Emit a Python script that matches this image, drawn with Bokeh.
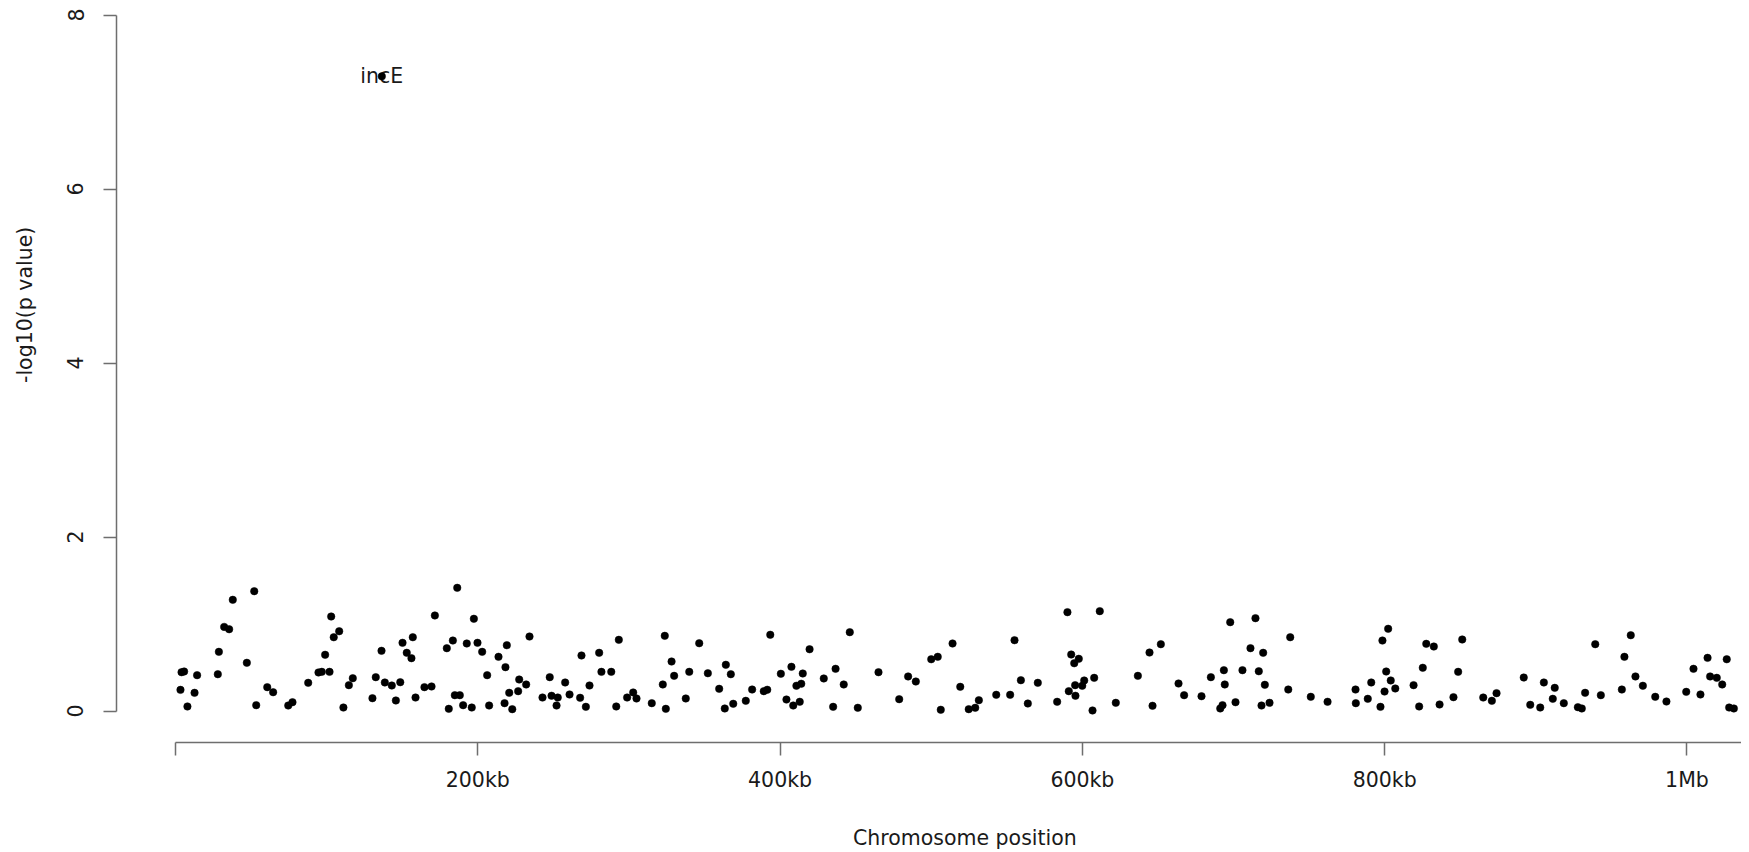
from bokeh.plotting import figure
from bokeh.models import ColumnDataSource, Range1d, FixedTicker
from bokeh.core.properties import value
from bokeh.embed import file_html
from bokeh.resources import INLINE

# Chromosome position (kb) and -log10(p value) for each marker
pos_kb = [4.0, 5.7, 14.3, 3.3, 12.6, 7.9, 28.7, 28.0, 32.2, 35.5, 37.9, 52.1, 47.2, 53.4, 60.7, 64.6,
          74.6, 77.4, 87.8, 94.6, 96.8, 101.9, 99.0, 103.0, 108.3, 104.7, 114.7, 117.3, 111.1, 130.3,
          132.5, 136.3, 138.5, 143.1, 148.7, 145.8, 150.2, 157.0, 153.0, 156.1, 158.8,
          164.7, 169.4, 171.6, 179.5, 183.5, 186.4, 180.8, 184.8, 188.1, 190.3, 196.0, 192.7, 197.4,
          199.8, 202.9, 206.2, 207.5, 213.7, 219.2, 218.3, 217.7, 222.8, 220.8, 227.4, 226.7, 232.0,
          234.2, 242.8, 247.6, 248.8, 252.9, 252.1, 257.8, 260.7, 267.7, 271.5, 268.6, 273.9, 280.3,
          281.8, 288.3, 293.3, 291.6, 298.8, 302.8, 305.0, 315.1, 323.7, 328.2, 329.9, 322.4, 324.4,
          337.6, 339.9,
          346.5, 352.2, 359.7, 364.1, 367.4, 363.4, 369.0, 377.3, 381.5, 389.2, 391.5, 393.5, 400.5,
          407.5, 404.2, 408.7, 413.0, 410.8, 414.0, 415.0, 419.5, 428.9, 436.7, 435.1, 442.1, 446.1,
          451.4, 465.1, 478.8, 484.7, 489.8, 500.0, 504.3, 506.3,
          514.1, 519.2, 524.8, 529.1, 531.5, 543.0, 552.2, 555.1, 559.3, 563.9, 570.5, 583.3, 590.1,
          592.6, 597.6, 594.6, 591.0, 595.2, 595.4, 599.9, 601.2, 607.8, 606.7, 611.5, 622.1, 636.7,
          644.4, 651.9, 646.4, 663.6, 667.3, 678.8,
          685.0, 691.2, 692.7, 693.6, 694.2, 697.8, 701.3, 705.9, 711.2, 714.5, 716.7, 719.6, 720.7,
          718.5, 723.8, 737.5, 736.2, 751.1, 762.2, 780.7, 780.9, 788.8, 791.1, 797.2, 798.5, 802.3,
          801.0, 804.0, 799.9, 807.0, 819.1, 822.8, 825.2, 827.5, 832.5, 836.3, 845.5, 848.6, 851.3,
          865.2, 870.9, 874.0, 892.0, 896.3, 902.9, 905.3, 912.5, 911.2, 918.5, 927.8, 930.4, 932.6,
          939.3, 943.0, 956.9, 958.6, 962.8, 965.9, 970.8, 979.0, 986.4, 999.5, 1004.3, 1008.9,
          1013.6, 1015.3, 1019.7, 1023.3, 1026.3, 1027.9, 1031.0, 1038.9]

neglog_p = [0.446, 0.454, 0.412, 0.243, 0.209, 0.052, 0.680, 0.423, 0.967, 0.940, 1.278, 1.377, 0.554,
            0.067, 0.274, 0.216, 0.063, 0.101, 0.324, 0.443, 0.450, 0.450, 0.646, 1.086, 0.917, 0.848,
            0.297, 0.377, 0.040, 0.147, 0.389, 0.692, 0.328, 0.293, 0.331, 0.121, 0.784, 0.848, 0.669,
            0.607, 0.155,
            0.274, 0.282, 1.098, 0.722, 0.810, 1.416, 0.025, 0.182, 0.182, 0.067, 0.040, 0.776, 1.060,
            0.784, 0.680, 0.412, 0.063, 0.623, 0.756, 0.504, 0.090, 0.021, 0.209, 0.362, 0.228, 0.305,
            0.856, 0.155, 0.389, 0.175, 0.155, 0.063, 0.328, 0.190, 0.152, 0.048, 0.638, 0.293, 0.669,
            0.450, 0.450, 0.818, 0.052, 0.155, 0.213, 0.144, 0.090, 0.864, 0.569, 0.404, 0.305, 0.025,
            0.144, 0.450,
            0.779, 0.434, 0.255, 0.531, 0.423, 0.029, 0.083, 0.117, 0.247, 0.228, 0.244, 0.876, 0.428,
            0.508, 0.132, 0.063, 0.106, 0.290, 0.313, 0.431, 0.710, 0.374, 0.485, 0.048, 0.305, 0.906,
            0.037, 0.446, 0.136, 0.397, 0.339, 0.595, 0.623, 0.014,
            0.776, 0.278, 0.021, 0.037, 0.124, 0.186, 0.186, 0.814, 0.354, 0.086, 0.324, 0.106, 1.136,
            0.649, 0.600, 0.549, 0.228, 0.297, 0.175, 0.290, 0.351, 0.381, 0.006, 1.148, 0.094, 0.404,
            0.672, 0.768, 0.060, 0.316, 0.182, 0.170,
            0.389, 0.029, 0.067, 0.469, 0.305, 1.021, 0.101, 0.469, 0.722, 1.067, 0.457, 0.669, 0.301,
            0.063, 0.094, 0.848, 0.247, 0.163, 0.106, 0.247, 0.090, 0.140, 0.328, 0.048, 0.810, 0.945,
            0.454, 0.351, 0.224, 0.259, 0.297, 0.052, 0.497, 0.772, 0.741, 0.075, 0.159, 0.450, 0.822,
            0.155, 0.117, 0.205, 0.385, 0.071, 0.040, 0.328, 0.266, 0.140, 0.090, 0.044, 0.029, 0.209,
            0.768, 0.182, 0.247, 0.623, 0.871, 0.397, 0.290, 0.163, 0.109, 0.220, 0.485, 0.190,
            0.611, 0.397, 0.381, 0.305, 0.595, 0.040, 0.029, 0.090]

# Highlighted hit
hit_name = ["incE"]
hit_pos_kb = [136.5]
hit_neglog_p = [7.295]

x_ticks = [0, 200, 400, 600, 800, 1000]
x_tick_labels = ["", "200kb", "400kb", "600kb", "800kb", "1Mb"]
y_ticks = [0, 2, 4, 6, 8]
x_title = "Chromosome position"
y_title = "-log10(p value)"

FONT = "DejaVu Sans"
FSIZE = "20.5px"
TXT = "#1a1a1a"
AX = "#6e6e6e"
# The reference centres its axis titles on a plot region wider/taller than the visible
# frame; en-space padding shifts the centred titles to match that placement.
PAD = "\u2002"

p = figure(width=1741, height=852, output_backend="svg", toolbar_location=None,
           x_range=Range1d(-39.03, 1036.06), y_range=Range1d(-0.362, 8.1667),
           min_border_left=116, min_border_right=0, min_border_top=0, min_border_bottom=110)
p.outline_line_color = None
p.xgrid.grid_line_color = None
p.ygrid.grid_line_color = None
p.background_fill_color = "white"
p.border_fill_color = "white"

src = ColumnDataSource(dict(x=pos_kb, y=neglog_p))
p.scatter("x", "y", source=src, size=7.5, fill_color="black", line_color="black", line_width=0.5)

hit_src = ColumnDataSource(dict(x=hit_pos_kb, y=hit_neglog_p, name=hit_name))
p.text("x", "y", text="name", source=hit_src, text_align="center", text_baseline="middle",
       text_font=value(FONT), text_font_size=FSIZE, text_color=TXT)
p.scatter("x", "y", source=hit_src, size=7.5, fill_color="black", line_color="black", line_width=0.5)

# x axis
xa = p.xaxis[0]
xa.ticker = FixedTicker(ticks=x_ticks)
xa.major_label_overrides = {t: l for t, l in zip(x_ticks, x_tick_labels)}
xa.bounds = (0, 1100)
xa.axis_label = PAD * 7 + x_title

# y axis
ya = p.yaxis[0]
ya.ticker = FixedTicker(ticks=y_ticks)
ya.bounds = (0, 8)
ya.axis_label = PAD * 13 + y_title
ya.major_label_orientation = "vertical"

for ax in (xa, ya):
    ax.axis_line_color = AX
    ax.axis_line_width = 1.5
    ax.major_tick_line_color = AX
    ax.major_tick_line_width = 1.5
    ax.major_tick_out = 13
    ax.major_tick_in = 0
    ax.minor_tick_line_color = None
    ax.major_label_text_font = FONT
    ax.major_label_text_font_size = FSIZE
    ax.major_label_text_color = TXT
    ax.axis_label_text_font = FONT
    ax.axis_label_text_font_size = FSIZE
    ax.axis_label_text_font_style = "normal"
    ax.axis_label_text_color = TXT

xa.major_label_standoff = 12
xa.axis_label_standoff = 31
ya.major_label_standoff = 20
ya.axis_label_standoff = 28

open("out.html", "w").write(file_html(p, INLINE))
